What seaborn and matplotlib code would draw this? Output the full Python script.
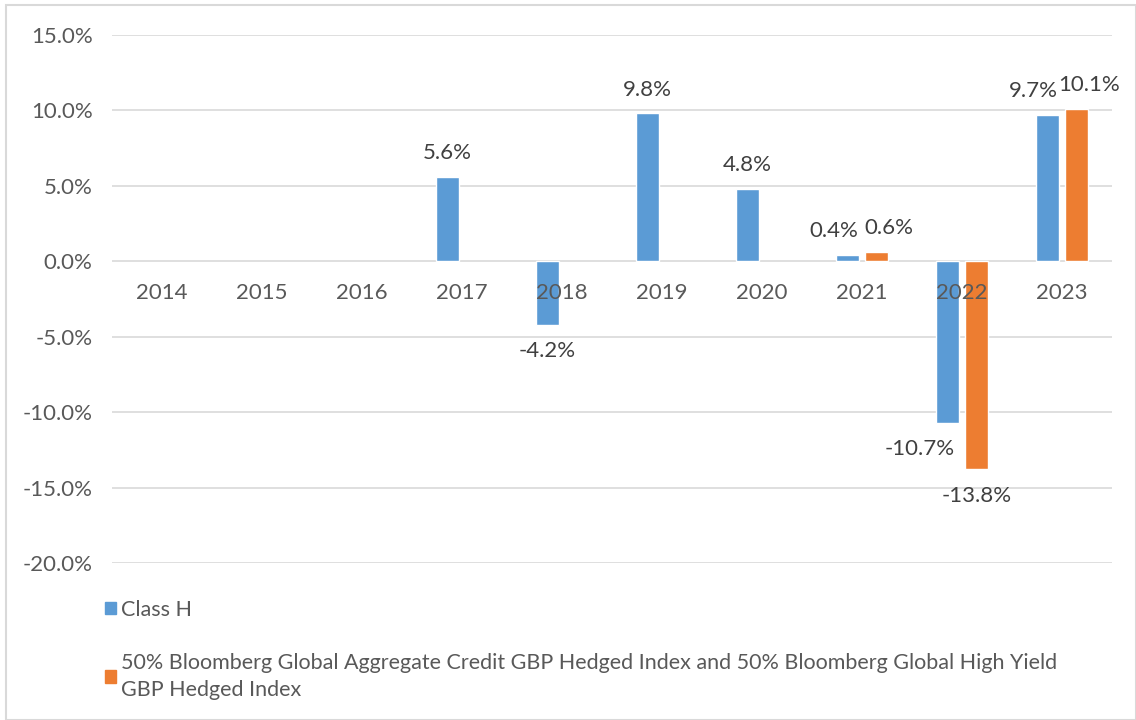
import numpy as np
import pandas as pd
import matplotlib
matplotlib.use("Agg")
import matplotlib.pyplot as plt
import matplotlib.patches as mpatches
import matplotlib.transforms as mtransforms
import seaborn as sns

# chart data (annual returns, %)
years = ["2014", "2015", "2016", "2017", "2018", "2019", "2020", "2021", "2022", "2023"]
class_h = [np.nan, np.nan, np.nan, 5.6, -4.2, 9.8, 4.8, 0.4, -10.7, 9.7]
index_ret = [np.nan, np.nan, np.nan, np.nan, np.nan, np.nan, np.nan, 0.6, -13.8, 10.1]
series_names = ["Class H",
                "50% Bloomberg Global Aggregate Credit GBP Hedged Index and 50% Bloomberg Global High Yield\nGBP Hedged Index"]
colors = ["#5b9bd5", "#ed7d31"]

df = pd.DataFrame({
    "year": years * 2,
    "ret": class_h + index_ret,
    "series": [series_names[0]] * len(years) + [series_names[1]] * len(years),
})
df = df.dropna()

sns.set_style("white")
plt.rcParams["font.family"] = ["Lato", "DejaVu Sans"]
text_col = "#595959"
fs = 16

fig = plt.figure(figsize=(11.36, 7.2), dpi=100)
ax = fig.add_axes([112 / 1136, 1 - 563 / 720, 1000 / 1136, 528 / 720])

sns.barplot(data=df, x="year", y="ret", hue="series", order=years, hue_order=series_names,
            palette=colors, saturation=1, width=0.58, gap=0.24, ax=ax, legend=False, errorbar=None)

# data labels: positive above, negative below
paired = {yr for yr, a, b in zip(years, class_h, index_ret) if not np.isnan(a) and not np.isnan(b)}
for k, cont in enumerate(ax.containers):
    sub = df[df["series"] == series_names[k]]
    vals = cont.datavalues
    pos = ax.bar_label(cont, labels=[f"{v:.1f}%" if v >= 0 else "" for v in vals],
                       padding=10, fontsize=fs, color="#404040")
    neg = ax.bar_label(cont, labels=[f"{v:.1f}%" if v < 0 else "" for v in vals],
                       padding=12, fontsize=fs, color="#404040")
    # nudge labels apart where both series have a bar, as Excel does
    for yr, tp, tn in zip(sub["year"], pos, neg):
        if yr in paired:
            dx = -10 if k == 0 else 9
            tp.xyann = (dx, tp.xyann[1])
            tn.xyann = (-20 if k == 0 else 0, tn.xyann[1])

ax.set_ylim(-20, 15)
ax.set_xlim(-0.5, 9.5)
ax.set_yticks(np.arange(-20, 16, 5))
ax.set_yticklabels([f"{v:.1f}%" for v in np.arange(-20, 16, 5)])
ax.yaxis.grid(True, color="#d9d9d9", linewidth=1.2)
ax.set_axisbelow(True)
for s in ax.spines.values():
    s.set_visible(False)
ax.tick_params(axis="both", length=0, labelsize=fs, labelcolor=text_col)
ax.tick_params(axis="y", pad=14)
ax.set_xticklabels([])
ax.set_xlabel("")
ax.set_ylabel("")

# category labels sit just under the zero line, drawn over the bars
trans = ax.transData + mtransforms.ScaledTranslation(0, -32 / 100, fig.dpi_scale_trans)
for i, yr in enumerate(years):
    ax.text(i, 0, yr, transform=trans, ha="center", va="center", fontsize=fs,
            color=text_col, zorder=5)

# legend below the plot
handles = [mpatches.Patch(color=c, label=n) for c, n in zip(colors, series_names)]
leg = fig.legend(handles=handles, loc="upper left", bbox_to_anchor=(96 / 1136, 1 - 591 / 720),
                 frameon=False, fontsize=15.5, labelcolor=text_col, handlelength=0.55, handleheight=0.55,
                 handletextpad=0.2, labelspacing=1.55, borderaxespad=0)
for t in leg.get_texts():
    t.set_linespacing(1.45)

# chart border
fig.patches.append(mpatches.Rectangle((6 / 1136, 0), 1 - 6 / 1136, 1 - 5 / 720, transform=fig.transFigure,
                                      fill=False, edgecolor="#d9d9d9", linewidth=1.5))

fig.savefig("out.png", dpi=100)
